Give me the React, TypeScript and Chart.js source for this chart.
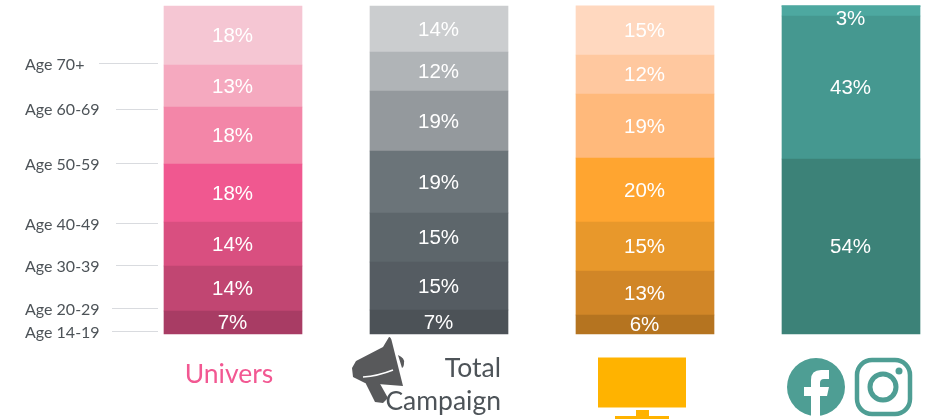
import React, { useEffect, useRef } from "react";
import { Chart, registerables } from "chart.js";

Chart.register(...registerables);

const categories = ["Univers", "Total Campaign", "TV", "Social"];
const ageGroups = ["Age 14-19", "Age 20-29", "Age 30-39", "Age 40-49", "Age 50-59", "Age 60-69", "Age 70+"];

// Segment sizes per category, bottom to top (share of the bar)
const universValues = [7.01, 13.72, 13.41, 17.68, 17.38, 12.8, 18.0];
const campaignValues = [7.32, 14.63, 14.94, 18.9, 18.29, 11.89, 14.03];
const tvValues = [5.79, 13.41, 14.94, 19.51, 19.51, 11.89, 15.0];
const socialValues = [53.35, 43.6, 3.05, 0, 0, 0, 0];

// Printed percentages
const universLabels = [7, 14, 14, 18, 18, 13, 18];
const campaignLabels = [7, 15, 15, 19, 19, 12, 14];
const tvLabels = [6, 13, 15, 20, 19, 12, 15];
const socialLabels = [54, 43, 3, 0, 0, 0, 0];

const universColors = ["#A83C64", "#C14672", "#D94F80", "#F05890", "#F386A8", "#F5A9BF", "#F5C6D3"];
const campaignColors = ["#4C5257", "#555C62", "#5D666B", "#6B7479", "#94999D", "#B0B4B7", "#CBCDCF"];
const tvColors = ["#B57420", "#D18627", "#E8982B", "#FFA530", "#FFB97B", "#FFC89F", "#FFD8BF"];
const socialColors = ["#3C8278", "#459890", "#4DA8A0", "#4DA8A0", "#4DA8A0", "#4DA8A0", "#4DA8A0"];

// Age-axis tick values on the value scale, and where each leader line starts
const ageTickValues = [0.9, 7.9, 20.9, 33.8, 52, 68.75, 82.6];
const ageLineStarts = [112, 112, 116, 116, 116, 116, 99];

const allValues = [universValues, campaignValues, tvValues, socialValues];
const allLabels = [universLabels, campaignLabels, tvLabels, socialLabels];
const allColors = [universColors, campaignColors, tvColors, socialColors];

const decorations = {
  id: "decorations",
  afterDatasetsDraw(chart: any) {
    const { ctx, scales } = chart;
    const x = scales.x;
    const y = scales.y;

    ctx.save();
    // Percent labels inside the segments
    ctx.fillStyle = "#ffffff";
    ctx.font = "20.5px 'Liberation Sans'";
    ctx.textAlign = "center";
    ctx.textBaseline = "middle";
    categories.forEach((_, c) => {
      let base = 0;
      allValues[c].forEach((v, s) => {
        if (v > 0) {
          const top = y.getPixelForValue(base + v);
          const bottom = y.getPixelForValue(base);
          const mid = bottom - top < 15 ? top + 12 : (top + bottom) / 2;
          ctx.fillText(allLabels[c][s] + "%", x.getPixelForValue(c) - 0.5, mid + 1);
        }
        base += v;
      });
    });

    // Age labels and leader lines
    ctx.font = "16px Lato";
    ctx.textAlign = "left";
    ageGroups.forEach((age, i) => {
      const py = y.getPixelForValue(ageTickValues[i]);
      ctx.fillStyle = "#4D5358";
      ctx.fillText(age, 25, py + 1.5);
      ctx.strokeStyle = "#D9DBDF";
      ctx.lineWidth = 1;
      ctx.beginPath();
      ctx.moveTo(ageLineStarts[i], Math.round(py) + 0.5);
      ctx.lineTo(158, Math.round(py) + 0.5);
      ctx.stroke();
    });

    // Category captions
    ctx.textBaseline = "alphabetic";
    ctx.font = "26.5px Lato";
    ctx.fillStyle = "#F25892";
    ctx.textAlign = "center";
    ctx.fillText("Univers", x.getPixelForValue(0) - 4, 383);
    ctx.fillStyle = "#4D5358";
    ctx.textAlign = "right";
    ctx.fillText("Total", 501, 377);
    ctx.fillText("Campaign", 501, 410);

    // Megaphone icon
    ctx.fillStyle = "#58595B";
    ctx.fill(new Path2D("M389 337 Q391 337 392 342 L403 386 L365 383 L353 377 L352 368 L356 361 L383 347 Z"));
    ctx.fill(new Path2D("M365 382 L375 402 L383 403 L388 398 L379 382 Z"));
    ctx.fill(new Path2D("M398 355 Q405 358 404 363 Q404 367 402 368 Z"));
    ctx.strokeStyle = "#ffffff";
    ctx.lineWidth = 1.5;
    ctx.stroke(new Path2D("M363 377 Q378 376 393 370"));

    // TV icon
    ctx.fillStyle = "#FFB300";
    ctx.fillRect(598, 357.5, 88, 50);
    ctx.fillRect(636, 410, 13, 6);
    ctx.fillRect(615, 416, 54, 3);

    // Facebook icon
    ctx.fillStyle = "#4E9E94";
    ctx.beginPath();
    ctx.arc(816, 387, 29, 0, Math.PI * 2);
    ctx.fill();
    ctx.fillStyle = "#ffffff";
    ctx.fill(new Path2D("M811 416 V396 H804 V387 H811 V380 Q811 370 821 370 H829 V379 H824 Q820 379 820 383 V387 H829 L827 396 H820 V416 Z"));

    // Instagram icon
    ctx.strokeStyle = "#4E9E94";
    ctx.lineWidth = 4.5;
    ctx.beginPath();
    ctx.roundRect(857, 360, 53, 54, 15);
    ctx.stroke();
    ctx.lineWidth = 5;
    ctx.beginPath();
    ctx.arc(883, 387, 13, 0, Math.PI * 2);
    ctx.stroke();
    ctx.fillStyle = "#4E9E94";
    ctx.beginPath();
    ctx.arc(899, 371, 3.5, 0, Math.PI * 2);
    ctx.fill();
    ctx.restore();
  },
};

export default function App() {
  const ref = useRef<HTMLCanvasElement>(null);

  useEffect(() => {
    const chart = new Chart(ref.current!, {
      type: "bar",
      data: {
        labels: categories,
        datasets: ageGroups.map((age, s) => ({
          label: age,
          data: allValues.map((values) => values[s]),
          backgroundColor: allColors.map((colors) => colors[s]),
          borderWidth: 0,
          barThickness: 138,
          clip: false as any,
        })),
      },
      options: {
        responsive: false,
        animation: false,
        layout: { padding: { left: 233, right: 77, top: 6, bottom: 85 } },
        plugins: { legend: { display: false }, tooltip: { enabled: false } },
        scales: {
          x: { stacked: true, offset: false, display: false },
          y: { stacked: true, min: 0, max: 100, display: false },
        },
      },
      plugins: [decorations],
    });
    return () => chart.destroy();
  }, []);

  return (
    <canvas
      ref={ref}
      width={928}
      height={419}
      style={{ position: "fixed", left: 0, top: 0, width: 928, height: 419, display: "block" }}
    />
  );
}
